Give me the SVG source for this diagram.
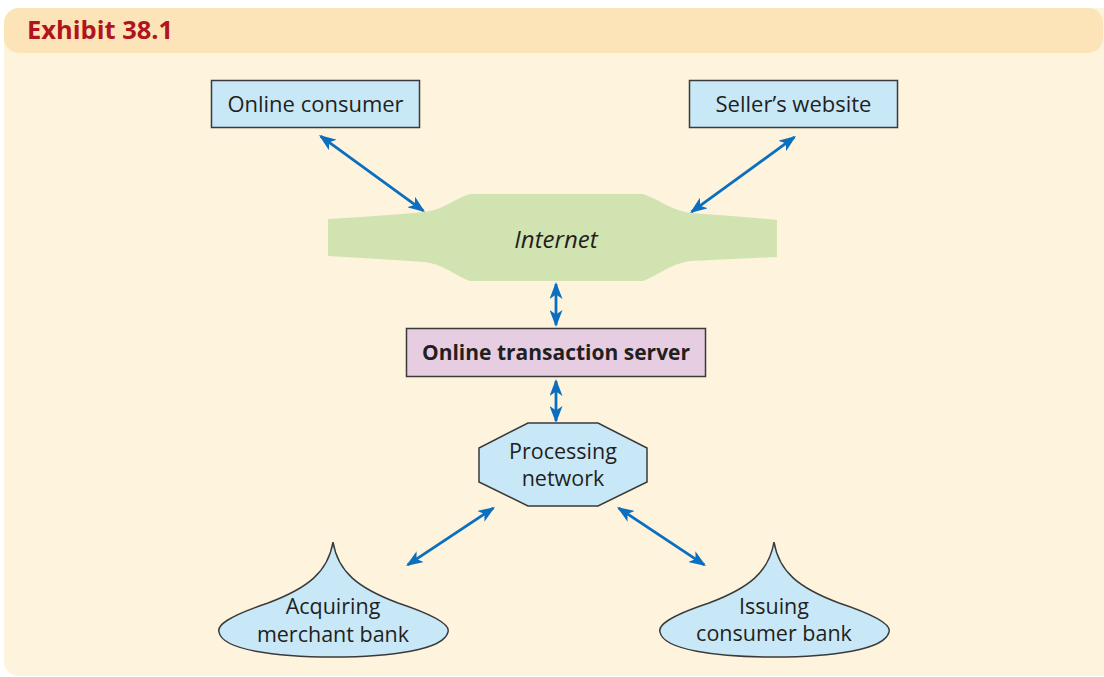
<svg xmlns="http://www.w3.org/2000/svg" width="1104" height="677" viewBox="0 0 1104 677">
  <defs>
    <marker id="head" markerUnits="userSpaceOnUse" markerWidth="17" markerHeight="13" refX="15" refY="6.5" orient="auto-start-reverse">
      <path d="M0,0 L17,6.5 L0,13 L4.5,6.5 Z" fill="#0b6fbf"/>
    </marker>
    <style>
      .lbl { font-family: "Open Sans", "Liberation Sans", sans-serif; font-size: 22px; fill: #231f20; text-anchor: middle; }
      .two { font-size: 21.5px; }
      .box { fill: #c8e8f8; stroke: #3a3a3a; stroke-width: 1.5; }
      .link { stroke: #0b6fbf; stroke-width: 2.8; fill: none; marker-start: url(#head); marker-end: url(#head); }
    </style>
  </defs>

  <rect x="0" y="0" width="1104" height="677" fill="#ffffff"/>
  <!-- exhibit panel and header band -->
  <rect x="4" y="8" width="1115" height="668" rx="15" fill="#fef3dc"/>
  <rect x="4" y="8" width="1099" height="45" rx="15" fill="#fde3b8"/>
  <text x="27" y="39" font-family="Open Sans, Liberation Sans, sans-serif" font-size="25.5" font-weight="bold" fill="#b0141c">Exhibit 38.1</text>

  <g id="internet">
    <path d="M328,219 Q380,216 425,212 C445,209 452,200 470,194 L643,194 C661,200 668,209 690,213 Q735,216 777,220 L777,257 Q735,259 690,261 C668,265 661,274 643,281 L470,281 C452,274 445,265 425,262 Q380,259 328,256 Z" fill="#d1e3b0"/>
    <text class="lbl" x="556" y="248" style="font-style:italic;font-size:24px">Internet</text>
  </g>

  <g id="online-consumer">
    <rect class="box" x="211.5" y="80.5" width="208" height="47"/>
    <text class="lbl" x="315.5" y="112">Online consumer</text>
  </g>

  <g id="sellers-website">
    <rect class="box" x="689.5" y="80.5" width="208" height="47"/>
    <text class="lbl" x="793.5" y="112">Seller’s website</text>
  </g>

  <g id="transaction-server">
    <rect x="406.5" y="328.5" width="299" height="48" fill="#e6cde2" stroke="#3a3a3a" stroke-width="1.5"/>
    <text class="lbl" x="556" y="360" style="font-weight:bold;font-size:21px">Online transaction server</text>
  </g>

  <g id="processing-network">
    <polygon class="box" points="528,423 598,423 647,448 647,482 598,506 528,506 479,482 479,448"/>
    <text class="lbl two" x="563" y="459">Processing</text>
    <text class="lbl two" x="563" y="486">network</text>
  </g>

  <g id="acquiring-bank">
    <path class="box" d="M333,542 C338,572 358,588 398,603 C440,617 450,626 448,632 C444,650 390,657 333,657 C276,657 222,650 219,632 C217,626 226,617 268,603 C308,588 328,572 333,542 Z"/>
    <text class="lbl two" x="333" y="614">Acquiring</text>
    <text class="lbl two" x="333" y="642">merchant bank</text>
  </g>

  <g id="issuing-bank">
    <path class="box" transform="translate(441,0)" d="M333,542 C338,572 358,588 398,603 C440,617 450,626 448,632 C444,650 390,657 333,657 C276,657 222,650 219,632 C217,626 226,617 268,603 C308,588 328,572 333,542 Z"/>
    <text class="lbl two" x="774" y="614">Issuing</text>
    <text class="lbl two" x="774" y="641">consumer bank</text>
  </g>

  <g id="connectors">
    <line class="link" x1="320.6" y1="136.2" x2="423.4" y2="210.8"/>
    <line class="link" x1="794.4" y1="137.2" x2="691.6" y2="211.8"/>
    <line class="link" x1="556" y1="284" x2="556" y2="325"/>
    <line class="link" x1="556" y1="381" x2="556" y2="421"/>
    <line class="link" x1="493.3" y1="508.1" x2="407.7" y2="564.9"/>
    <line class="link" x1="618.7" y1="508.1" x2="704.3" y2="564.9"/>
  </g>
</svg>
